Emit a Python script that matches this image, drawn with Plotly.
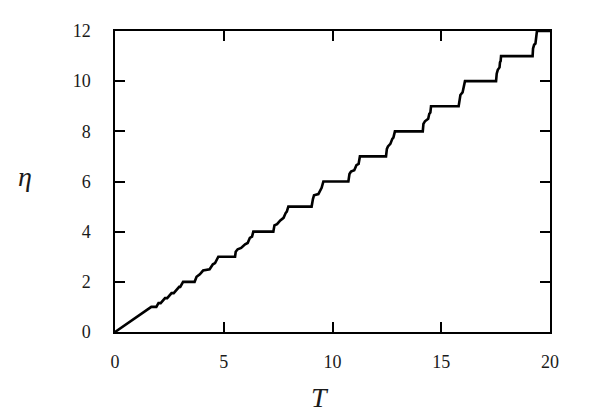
import plotly.graph_objects as go

# T values along the staircase curve
t_values = [0, 1.67, 1.90, 2.0, 2.1, 2.3, 2.4, 2.6, 2.7, 2.95, 3.0, 3.13,
            3.66, 3.75, 3.9, 4.05, 4.35, 4.5, 4.6, 4.75,
            5.52, 5.55, 5.64, 5.8, 5.98, 6.1, 6.2, 6.3, 6.36,
            7.28, 7.33, 7.45, 7.6, 7.75, 7.85, 7.9, 7.97,
            9.04, 9.1, 9.15, 9.35, 9.45, 9.5, 9.58,
            10.73, 10.78, 10.85, 11.0, 11.1, 11.2, 11.26,
            12.46, 12.5, 12.55, 12.66, 12.75, 12.8, 12.87,
            14.15, 14.18, 14.25, 14.4, 14.45, 14.5, 14.53,
            15.8, 15.84, 15.88, 15.98, 16.03, 16.06, 16.09,
            17.52, 17.55, 17.6, 17.68, 17.7, 17.73, 17.75,
            19.2, 19.22, 19.27, 19.33, 19.36, 19.38, 19.4, 20]

eta_values = [0, 1.0, 1.0, 1.15, 1.15, 1.35, 1.35, 1.55, 1.55, 1.8, 1.8, 2.0,
              2.0, 2.2, 2.3, 2.45, 2.5, 2.7, 2.75, 3.0,
              3.0, 3.2, 3.3, 3.35, 3.5, 3.55, 3.75, 3.8, 4.0,
              4.0, 4.25, 4.3, 4.45, 4.55, 4.75, 4.8, 5.0,
              5.0, 5.3, 5.45, 5.5, 5.7, 5.75, 6.0,
              6.0, 6.3, 6.4, 6.45, 6.65, 6.7, 7.0,
              7.0, 7.3, 7.4, 7.5, 7.7, 7.75, 8.0,
              8.0, 8.3, 8.4, 8.5, 8.7, 8.75, 9.0,
              9.0, 9.3, 9.45, 9.55, 9.75, 9.8, 10.0,
              10.0, 10.3, 10.45, 10.55, 10.75, 10.8, 11.0,
              11.0, 11.3, 11.45, 11.5, 11.7, 11.8, 12.0, 12.0]

x_ticks = [0, 5, 10, 15, 20]
y_ticks = [0, 2, 4, 6, 8, 10, 12]

serif = "Liberation Serif, DejaVu Serif, serif"
ink = "#1a1a1a"

fig = go.Figure(
    go.Scatter(
        x=t_values,
        y=eta_values,
        mode="lines",
        line=dict(color="black", width=2.6),
        showlegend=False,
        cliponaxis=False,
    )
)

axis_style = dict(
    showgrid=False,
    zeroline=False,
    showline=True,
    linecolor="black",
    linewidth=1.5,
    mirror="allticks",
    ticks="inside",
    ticklen=10,
    tickwidth=1.5,
    tickcolor="black",
    tickfont=dict(family=serif, size=18, color=ink),
)

fig.update_xaxes(range=[0, 20], tickvals=x_ticks, ticklabelstandoff=13, **axis_style)
fig.update_yaxes(range=[0, 12], tickvals=y_ticks, ticklabelstandoff=19, **axis_style)

fig.add_annotation(text="<i>T</i>", x=0.471, y=-0.219, xref="paper", yref="paper",
                   xanchor="center", yanchor="middle",
                   showarrow=False, font=dict(family=serif, size=28, color=ink))
fig.add_annotation(text="<i>η</i>", x=-0.207, y=0.515, xref="paper", yref="paper",
                   xanchor="center", yanchor="middle",
                   showarrow=False, font=dict(family=serif, size=28, color=ink))

# the page puts the plot 8px in from the corner, so margins are trimmed to match
fig.update_layout(
    width=598,
    height=419,
    margin=dict(l=107, r=56, t=23, b=95),
    plot_bgcolor="white",
    paper_bgcolor="white",
)

fig.write_html("out.html")
